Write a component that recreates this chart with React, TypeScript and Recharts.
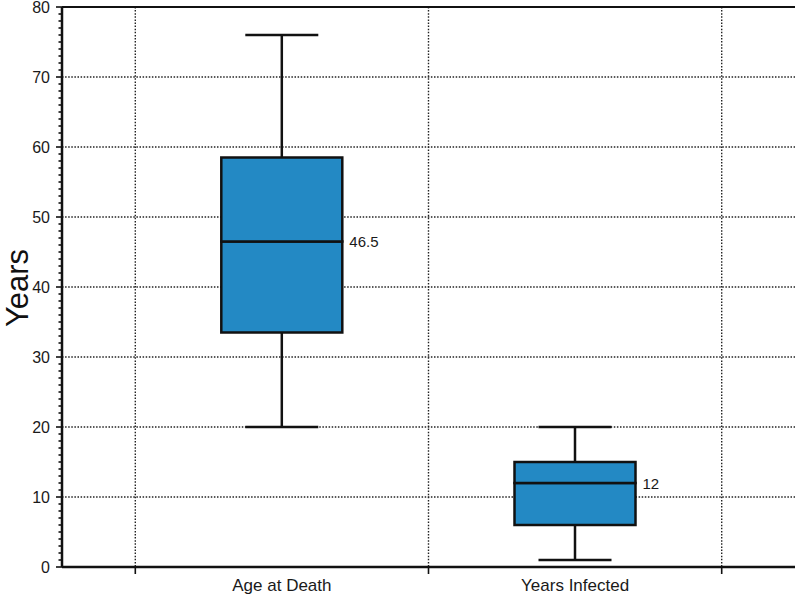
import React from 'react'
import { ComposedChart, Bar, XAxis, YAxis, CartesianGrid, ReferenceLine, Label } from 'recharts'

// box plot statistics per category
const categories = ['Age at Death', 'Years Infected']
const minValues = [20, 1]
const q1Values = [33.5, 6]
const medianValues = [46.5, 12]
const q3Values = [58.5, 15]
const maxValues = [76, 20]

// y axis: labelled ticks every 10, small ticks every 1
const yMajorTicks = [0, 10, 20, 30, 40, 50, 60, 70, 80]
const yMinorTicks = Array.from({ length: 81 }, (_, i) => i)

const BOX_FILL = '#2389c4'
const INK = '#111'
const FONT = '"Liberation Sans", Arial, Helvetica, sans-serif'

const data = categories.map((name, i) => ({
  name,
  base: minValues[i],
  lowWhisker: q1Values[i] - minValues[i],
  lowBox: medianValues[i] - q1Values[i],
  highBox: q3Values[i] - medianValues[i],
  highWhisker: maxValues[i] - q3Values[i],
  median: medianValues[i],
}))

const CAP = 73

function MinCap(props: any) {
  const { x, y, width } = props
  const cx = x + width / 2
  return <line x1={cx - CAP / 2} x2={cx + CAP / 2} y1={y} y2={y} stroke={INK} strokeWidth={2.5} />
}

function LowWhisker(props: any) {
  const { x, y, width, height } = props
  const cx = x + width / 2
  return <line x1={cx} x2={cx} y1={y} y2={y + height} stroke={INK} strokeWidth={2.5} />
}

function BoxPart(props: any) {
  const { x, y, width, height } = props
  return (
    <rect x={x} y={y} width={width} height={height} fill={BOX_FILL} stroke={INK} strokeWidth={2.5} />
  )
}

function UpperBox(props: any) {
  const { x, y, width, height, payload } = props
  return (
    <g>
      <rect x={x} y={y} width={width} height={height} fill={BOX_FILL} stroke={INK} strokeWidth={2.5} />
      <text
        x={x + width + 7}
        y={y + height}
        dominantBaseline="central"
        fontSize={15}
        fontFamily={FONT}
        fill="#1a1a1a"
      >
        {payload?.median}
      </text>
    </g>
  )
}

function HighWhisker(props: any) {
  const { x, y, width, height } = props
  const cx = x + width / 2
  return (
    <g>
      <line x1={cx} x2={cx} y1={y} y2={y + height} stroke={INK} strokeWidth={2.5} />
      <line x1={cx - CAP / 2} x2={cx + CAP / 2} y1={y} y2={y} stroke={INK} strokeWidth={2.5} />
    </g>
  )
}

function YTick(props: any) {
  const { x, y, payload } = props
  const v = payload.value
  const major = yMajorTicks.includes(v)
  return (
    <g>
      <line x1={x - (major ? 6 : 3.5)} x2={x} y1={y} y2={y} stroke={INK} strokeWidth={1.6} />
      {major && (
        <text x={x - 12} y={y} textAnchor="end" dominantBaseline="central" fontSize={16} fontFamily={FONT} fill="#1a1a1a">
          {v}
        </text>
      )}
    </g>
  )
}

// category label in the middle of its band, tick marks on the band edges
function XTick(props: any) {
  const { x, y, payload, index, visibleTicksCount } = props
  const half = payload?.offset ?? 0
  const last = index === visibleTicksCount - 1
  return (
    <g>
      <line x1={x - half} x2={x - half} y1={y} y2={y + 7} stroke={INK} strokeWidth={1.6} />
      {last && <line x1={x + half} x2={x + half} y1={y} y2={y + 7} stroke={INK} strokeWidth={1.6} />}
      <text x={x} y={y + 24} textAnchor="middle" fontSize={17} fontFamily={FONT} fill="#1a1a1a">
        {payload.value}
      </text>
    </g>
  )
}

// vertical grid lines on the band edges of the category axis
function bandEdges({ xAxis }: any) {
  try {
    const scale = xAxis?.scale
    if (!scale || typeof scale.bandwidth !== 'function' || typeof scale.range !== 'function') return []
    const bw = scale.bandwidth()
    const r = scale.range()
    const start = Math.min(r[0], r[r.length - 1])
    return [...categories.map((_, i) => start + i * bw), start + categories.length * bw]
  } catch (e) {
    return []
  }
}

function YearsLabel(props: any) {
  const vb = props.viewBox ?? { x: 0, y: 7, width: 62, height: 560 }
  const cx = vb.x + 28
  const cy = vb.y + vb.height / 2 + 1
  return (
    <text
      x={cx}
      y={cy}
      transform={`rotate(-90, ${cx}, ${cy})`}
      textAnchor="middle"
      fontSize={31}
      fontFamily={FONT}
      fill="#111"
    >
      Years
    </text>
  )
}

export default function App() {
  return (
    <div style={{ position: 'absolute', left: 0, top: 0 }}>
      <ComposedChart width={797} height={595} data={data} margin={{ top: 7, right: 2, bottom: 0, left: 0 }}>
        <CartesianGrid
          xAxisId="cat"
          stroke="#222"
          strokeWidth={1.4}
          strokeDasharray="1.5 1.6"
          horizontalValues={yMajorTicks}
          verticalCoordinatesGenerator={bandEdges}
        />
        <XAxis
          xAxisId="cat"
          dataKey="name"
          type="category"
          padding={{ left: 73.3, right: 73.3 }}
          interval={0}
          tick={<XTick />}
          tickSize={0}
          tickMargin={0}
          tickLine={false}
          axisLine={{ stroke: INK, strokeWidth: 2.5 }}
          height={28}
        />
        <YAxis
          type="number"
          domain={[0, 80]}
          ticks={yMinorTicks}
          interval={0}
          tick={<YTick />}
          tickSize={0}
          tickMargin={0}
          tickLine={false}
          axisLine={{ stroke: INK, strokeWidth: 2.5 }}
          width={62}
        >
          <Label content={<YearsLabel />} />
        </YAxis>
        <YAxis
          yAxisId="frame"
          orientation="right"
          type="number"
          domain={[0, 80]}
          tick={false}
          tickLine={false}
          axisLine={{ stroke: INK, strokeWidth: 2 }}
          width={0}
        />
        <ReferenceLine y={80} xAxisId="cat" stroke={INK} strokeWidth={2} />
        <Bar xAxisId="cat" dataKey="base" stackId="box" barSize={121} shape={<MinCap />} isAnimationActive={false} />
        <Bar xAxisId="cat" dataKey="lowWhisker" stackId="box" barSize={121} shape={<LowWhisker />} isAnimationActive={false} />
        <Bar xAxisId="cat" dataKey="lowBox" stackId="box" barSize={121} shape={<BoxPart />} isAnimationActive={false} />
        <Bar xAxisId="cat" dataKey="highBox" stackId="box" barSize={121} shape={<UpperBox />} isAnimationActive={false} />
        <Bar xAxisId="cat" dataKey="highWhisker" stackId="box" barSize={121} shape={<HighWhisker />} isAnimationActive={false} />
      </ComposedChart>
    </div>
  )
}
